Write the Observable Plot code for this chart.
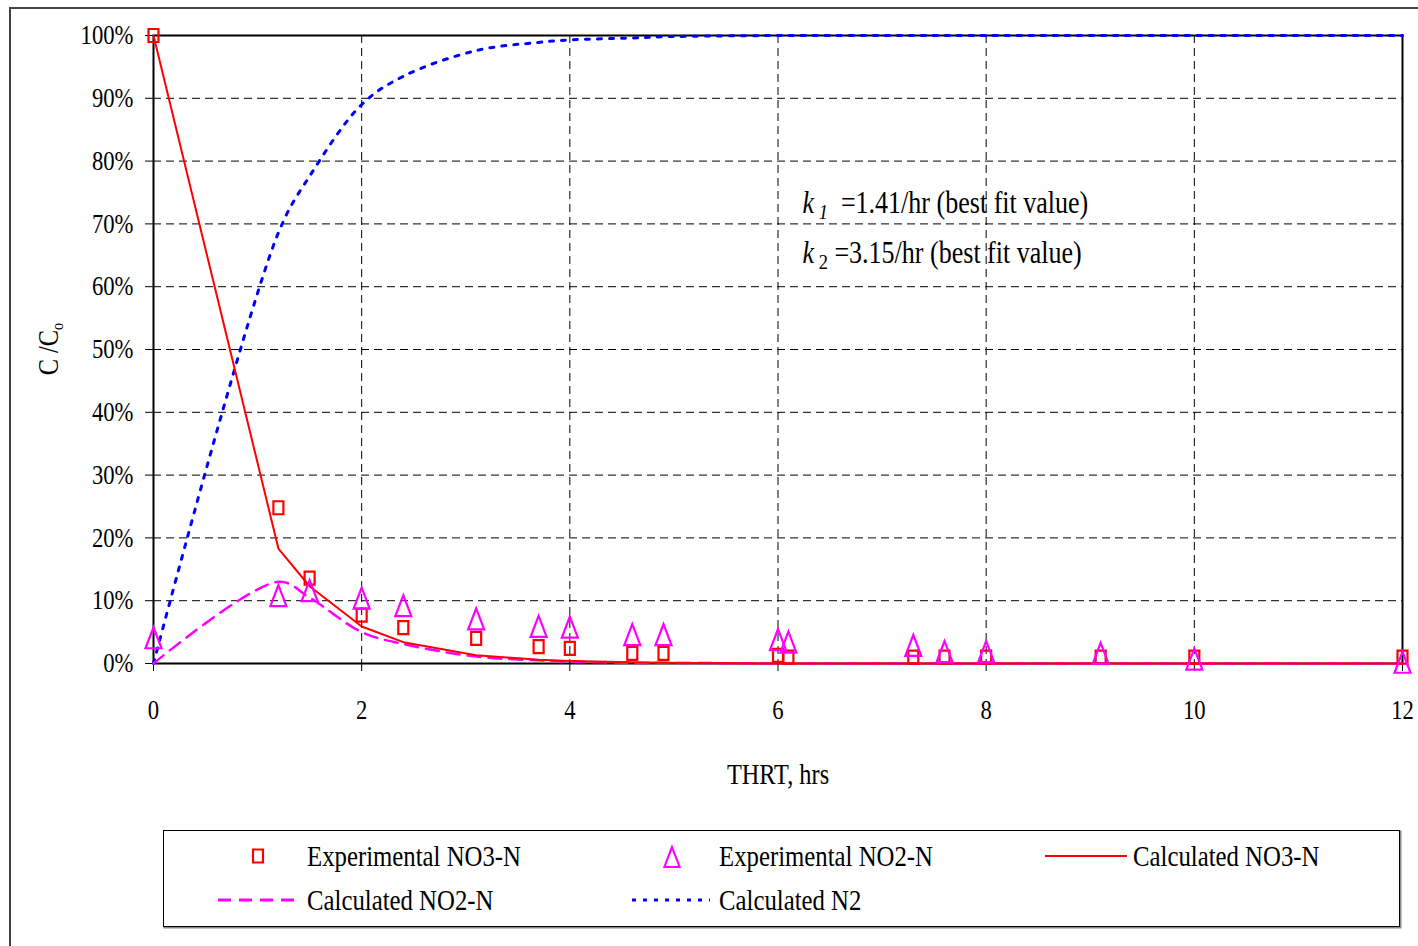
<!DOCTYPE html>
<html><head><meta charset="utf-8">
<script src="https://cdn.jsdelivr.net/npm/d3@7"></script>
<script src="https://cdn.jsdelivr.net/npm/@observablehq/plot@0.6"></script>
<style>
html,body{margin:0;padding:0;background:#fff;}
#page{position:relative;width:1418px;height:946px;overflow:hidden;background:#fff;}
#outer{position:absolute;left:9px;top:7px;width:1440px;height:970px;border:2px solid #444;box-sizing:border-box;}
#chart{position:absolute;left:0;top:0;}
#legend{position:absolute;left:163px;top:830px;}
</style></head>
<body><div id="page"><div id="outer"></div><div id="chart"></div><div id="legend"></div></div>
<script>
// ---- data (C/C0 in percent) ----
const hours   = [0, 1.2, 1.5, 2.0, 2.4, 3.1, 3.7, 4.0, 4.6, 4.9, 6.0, 6.1, 7.3, 7.6, 8.0, 9.1, 10.0, 12.0];
const expNO3  = [100, 24.8, 13.6, 7.7, 5.7, 4.0, 2.7, 2.4, 1.6, 1.6, 1.3, 1.0, 1.0, 1.0, 1.0, 1.0, 1.0, 1.0];
const expNO2  = [4.1, 10.8, 11.6, 10.4, 9.2, 7.1, 5.9, 5.8, 4.6, 4.6, 3.8, 3.4, 2.9, 1.9, 1.9, 1.6, 0.7, 0.2];
const calcNO3 = [100, 18.3, 12.3, 5.9, 3.4, 1.3, 0.6, 0.4, 0.2, 0.1, 0.0, 0.0, 0.0, 0.0, 0.0, 0.0, 0.0, 0.0];
const calcNO2 = [0, 13.0, 10.5, 5.0, 3.1, 1.1, 0.5, 0.3, 0.1, 0.1, 0.0, 0.0, 0.0, 0.0, 0.0, 0.0, 0.0, 0.0];
const calcN2  = [0, 68.6, 77.6, 89.0, 93.5, 97.6, 98.9, 99.3, 99.6, 99.8, 100, 100, 100, 100, 100, 100, 100, 100];
const xTicks = [0, 2, 4, 6, 8, 10, 12];
const yTicks = [0, 10, 20, 30, 40, 50, 60, 70, 80, 90, 100];
const seriesNames = ["Experimental NO3-N", "Experimental NO2-N", "Calculated NO3-N", "Calculated NO2-N", "Calculated N2"];
const xLabel = "THRT, hrs";
const annotations = [
  {x: 6.24, y: 71.7, k: "k", sub: " 1", rest: "  =1.41/hr (best fit value)", subItalic: true},
  {x: 6.24, y: 63.7, k: "k", sub: " 2", rest: " =3.15/hr (best fit value)", subItalic: false}
];

const rows = hours.map((t, i) => ({t, expNO3: expNO3[i], expNO2: expNO2[i], calcNO3: calcNO3[i], calcNO2: calcNO2[i], calcN2: calcN2[i]}));

const RED = "#ff0000", MAG = "#ff00ff", BLUE = "#0000ff";
const FONT = "Liberation Serif, Times New Roman, serif";
const S = 0.84; // horizontal text compression

const squareSym = {draw(ctx) { ctx.moveTo(-5, -6.5); ctx.lineTo(5, -6.5); ctx.lineTo(5, 6.5); ctx.lineTo(-5, 6.5); ctx.closePath(); }};
const triSym = {draw(ctx) { ctx.moveTo(0, -10.5); ctx.lineTo(8, 10.5); ctx.lineTo(-8, 10.5); ctx.closePath(); }};

const chart = Plot.plot({
  width: 1418, height: 820,
  marginLeft: 153, marginRight: 16, marginTop: 35, marginBottom: 157,
  style: {fontFamily: FONT, fontSize: "27px", color: "#000", background: "transparent", overflow: "visible"},
  x: {domain: [0, 12], ticks: xTicks, tickSize: 8, tickPadding: 28, label: null, tickFormat: d => String(d)},
  y: {domain: [0, 100], ticks: yTicks, tickSize: 8, tickPadding: 12, label: null, tickFormat: d => d + "%"},
  marks: [
    Plot.ruleY(yTicks.slice(1, -1), {stroke: "#000", strokeWidth: 1, strokeDasharray: "8,5"}),
    Plot.ruleX(xTicks.slice(1, -1), {stroke: "#000", strokeWidth: 1, strokeDasharray: "8,5"}),
    Plot.frame({stroke: "#000", strokeWidth: 2}),
    Plot.line(rows, {x: "t", y: "calcN2", stroke: BLUE, strokeWidth: 3, strokeDasharray: "4,8", curve: "catmull-rom"}),
    Plot.line(rows, {x: "t", y: "calcNO2", stroke: MAG, strokeWidth: 2.5, strokeDasharray: "13,8", curve: "catmull-rom"}),
    Plot.line(rows, {x: "t", y: "calcNO3", stroke: RED, strokeWidth: 2}),
    Plot.dot(rows, {x: "t", y: "expNO3", symbol: squareSym, r: 6, stroke: RED, strokeWidth: 2.2, fill: "none"}),
    Plot.dot(rows, {x: "t", y: "expNO2", symbol: triSym, r: 8, stroke: MAG, strokeWidth: 2.2, fill: "none"}),
    Plot.text([{x: 6, label: xLabel}], {x: "x", text: "label", frameAnchor: "bottom", dy: 120, fontSize: 29, fontFamily: FONT, fill: "#000"})
  ]
});
document.getElementById("chart").appendChild(chart);

const svg = d3.select(chart);
const xs = chart.scale("x"), ys = chart.scale("y");

// y-axis title  C/C0
const yl = svg.append("text")
  .attr("transform", `translate(49,${ys.apply(50)}) rotate(-90)`)
  .attr("text-anchor", "middle").attr("dy", "0.32em")
  .attr("font-family", FONT).attr("font-size", 29).attr("fill", "#000");
yl.append("tspan").text("C /C");
yl.append("tspan").attr("font-size", 17).attr("dy", 5).text("o");

// annotations
annotations.forEach(a => {
  const t = svg.append("text")
    .attr("transform", `translate(${xs.apply(a.x)},${ys.apply(a.y)})`)
    .attr("text-anchor", "start")
    .attr("font-family", FONT).attr("font-size", 31).attr("fill", "#000")
    .style("white-space", "pre");
  t.append("tspan").attr("font-style", "italic").text(a.k);
  t.append("tspan").attr("font-size", 22).attr("dy", 6).attr("font-style", a.subItalic ? "italic" : "normal").text(a.sub);
  t.append("tspan").attr("dy", -6).text(a.rest);
});

// compress all text horizontally around its anchor
function squeeze(root) {
  root.querySelectorAll("text").forEach(t => {
    const x = +t.getAttribute("x") || 0, y = +t.getAttribute("y") || 0;
    const tr = t.getAttribute("transform") || "";
    t.setAttribute("transform", `${tr} translate(${x},${y}) scale(${S},1) translate(${-x},${-y})`);
  });
}
squeeze(chart);

// legend (below the chart svg)
const L = d3.select("#legend").append("svg").attr("width", 1245).attr("height", 105)
  .style("overflow", "visible");
L.append("rect").attr("x", 1.5).attr("y", 1.5).attr("width", 1236).attr("height", 96).attr("fill", "none").attr("stroke", "#888").attr("stroke-width", 2);
L.append("rect").attr("x", 0.5).attr("y", 0.5).attr("width", 1236).attr("height", 96).attr("fill", "#fff").attr("stroke", "#000").attr("stroke-width", 1);
// swatches
L.append("path").attr("d", (() => { const p = d3.path(); squareSym.draw(p); return p.toString(); })())
  .attr("transform", "translate(95,26)").attr("fill", "none").attr("stroke", RED).attr("stroke-width", 2.2);
L.append("path").attr("d", (() => { const p = d3.path(); triSym.draw(p); return p.toString(); })())
  .attr("transform", "translate(509,27) scale(0.95)").attr("fill", "none").attr("stroke", MAG).attr("stroke-width", 2.2);
L.append("line").attr("x1", 882).attr("x2", 964).attr("y1", 26).attr("y2", 26).attr("stroke", RED).attr("stroke-width", 2);
L.append("line").attr("x1", 55).attr("x2", 137).attr("y1", 70).attr("y2", 70).attr("stroke", MAG).attr("stroke-width", 3).attr("stroke-dasharray", "13,8");
L.append("line").attr("x1", 469).attr("x2", 547).attr("y1", 70).attr("y2", 70).attr("stroke", BLUE).attr("stroke-width", 3).attr("stroke-dasharray", "4,7");
const legendText = [[144, 36], [556, 36], [970, 36], [144, 80], [556, 80]];
seriesNames.forEach((name, i) => {
  L.append("text").attr("transform", `translate(${legendText[i][0]},${legendText[i][1]})`)
    .attr("text-anchor", "start")
    .attr("font-family", FONT).attr("font-size", 29.5).attr("fill", "#000").text(name);
});
squeeze(L.node());
</script>
</body></html>
